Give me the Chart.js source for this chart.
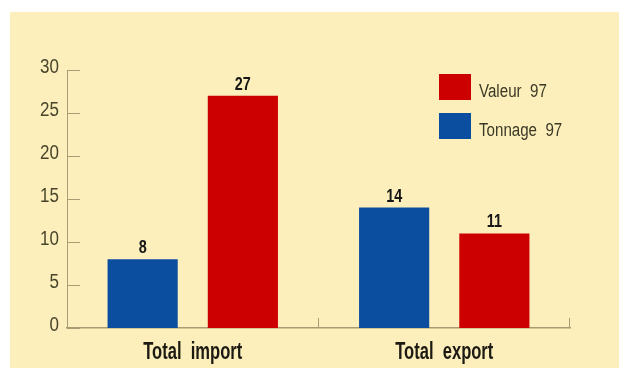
<!DOCTYPE html>
<html>
<head>
<meta charset="utf-8">
<script src="https://cdn.jsdelivr.net/npm/chart.js@4/dist/chart.umd.min.js"></script>
<style>
  body { margin: 0; background: #ffffff; }
  #panel { position: absolute; left: 10px; top: 12px; width: 609px; height: 356px; background: #fdefbb; }
</style>
</head>
<body>
<div id="panel"><canvas id="myChart" width="609" height="356"></canvas></div>
<script>
// chart data
var categories = ['Total  import', 'Total  export'];
var tonnage97 = [8, 14];
var valeur97 = [27, 11];
var yTicks = [0, 5, 10, 15, 20, 25, 30];

var axisColor = '#ab9b72';
var fontName = "'Liberation Sans', Arial, sans-serif";

// the original uses a condensed face, so squeeze the text horizontally
function narrowText(c, text, x, y, sx, align) {
  c.save();
  c.translate(x, y);
  c.scale(sx, 1);
  c.textAlign = align;
  c.fillText(text, 0, 0);
  c.restore();
}

// tick labels + short tick marks inside the plot + small x-axis dividers
var axisMarks = {
  id: 'axisMarks',
  afterDraw: function (chart) {
    var c = chart.ctx, a = chart.chartArea;
    var y = chart.scales.y, x = chart.scales.x;
    c.save();
    c.strokeStyle = axisColor;
    c.lineWidth = 1;
    c.beginPath();
    y.ticks.forEach(function (t) {
      var py = Math.round(y.getPixelForValue(t.value)) + 0.5;
      c.moveTo(a.left, py);
      c.lineTo(a.left + 13, py);
    });
    var half = (x.getPixelForValue(1) - x.getPixelForValue(0)) / 2;
    for (var i = 0; i < categories.length; i++) {
      var px = Math.round(x.getPixelForValue(i) + half) - 0.5;
      c.moveTo(px, a.bottom);
      c.lineTo(px, a.bottom - 10);
    }
    c.stroke();

    c.textBaseline = 'alphabetic';
    c.font = '20px ' + fontName;
    c.fillStyle = '#48452c';
    y.ticks.forEach(function (t) {
      narrowText(c, String(t.value), a.left - 8, y.getPixelForValue(t.value) + 3, 0.85, 'right');
    });

    c.font = 'bold 23px ' + fontName;
    c.fillStyle = '#1c1a12';
    categories.forEach(function (lab, i) {
      narrowText(c, lab, x.getPixelForTick(i), a.bottom + 31, 0.72, 'center');
    });
    c.restore();
  }
};

// value above each bar
var barValues = {
  id: 'barValues',
  afterDatasetsDraw: function (chart) {
    var c = chart.ctx;
    c.save();
    c.font = 'bold 18px ' + fontName;
    c.fillStyle = '#161616';
    c.textBaseline = 'alphabetic';
    chart.data.datasets.forEach(function (ds, di) {
      chart.getDatasetMeta(di).data.forEach(function (bar, i) {
        narrowText(c, String(ds.data[i]), bar.x, bar.y - 6, 0.8, 'center');
      });
    });
    c.restore();
  }
};

// legend boxes inside the plot, Valeur first
var boxLegend = {
  id: 'boxLegend',
  afterDraw: function (chart) {
    var c = chart.ctx;
    var items = [chart.data.datasets[1], chart.data.datasets[0]];
    c.save();
    c.font = '18px ' + fontName;
    c.textBaseline = 'alphabetic';
    items.forEach(function (ds, i) {
      var top = 62 + i * 39;
      c.fillStyle = ds.backgroundColor;
      c.fillRect(429, top, 32, 26);
      c.fillStyle = '#3a3826';
      narrowText(c, ds.label, 469, top + 23, 0.84, 'left');
    });
    c.restore();
  }
};

var ctx = document.getElementById('myChart').getContext('2d');
var myChart = new Chart(ctx, {
  type: 'bar',
  data: {
    labels: categories,
    datasets: [{
      label: 'Tonnage  97',
      data: tonnage97,
      backgroundColor: '#0b4ea0'
    }, {
      label: 'Valeur  97',
      data: valeur97,
      backgroundColor: '#cc0000'
    }]
  },
  options: {
    responsive: false,
    animation: false,
    categoryPercentage: 0.797,
    barPercentage: 0.7,
    layout: { padding: { left: 0, right: 49, top: 58, bottom: 0 } },
    plugins: {
      legend: { display: false },
      tooltip: { enabled: false }
    },
    scales: {
      x: {
        grid: { display: false },
        border: { color: axisColor, width: 1.5 },
        ticks: { display: false },
        afterFit: function (axis) { axis.height = 40; }
      },
      y: {
        min: 0,
        max: 30,
        afterBuildTicks: function (axis) { axis.ticks = yTicks.map(function (v) { return { value: v }; }); },
        grid: { display: false },
        border: { color: axisColor, width: 1 },
        ticks: { display: false },
        afterFit: function (axis) { axis.width = 57; }
      }
    }
  },
  plugins: [axisMarks, barValues, boxLegend]
});
</script>
</body>
</html>
